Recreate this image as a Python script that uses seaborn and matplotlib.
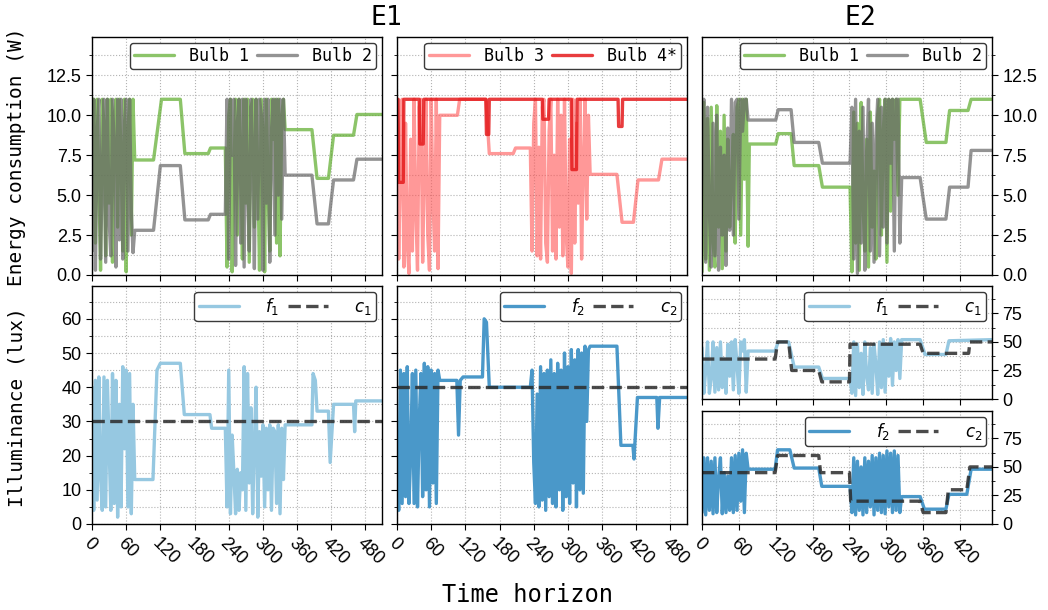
import numpy as np
import pandas as pd
import matplotlib
matplotlib.use("Agg")
import matplotlib.pyplot as plt
import seaborn as sns
from matplotlib.ticker import MultipleLocator

# ------------------------------------------------------------------ data
E1_END = 509
E2_END = 472

# sample times of the fast-switching stretches
E1_FAST_A = list(range(0, 76, 3))
E1_FAST_B = list(range(234, 340, 3))
E2_FAST_A = list(range(0, 76, 3))
E2_FAST_B = list(range(241, 326, 3))

# ---- E1, energy (W)
e1_bulb1_fast_a = [8.5, 11, 2.0, 11, 6.0, 0.3, 11, 9.5, 1.2, 11, 4.5, 11, 0.8,
                   10, 11, 3.0, 11, 7.5, 1.5, 11, 0.2, 9.0, 11, 2.5, 11, 7.2]
e1_bulb1_mid_t = [108, 122, 155, 163, 204, 208]
e1_bulb1_mid_v = [7.2, 11, 11, 7.6, 7.6, 7.95]
e1_bulb1_fast_b = [7.95, 0.5, 10, 11, 0.2, 6.0, 11, 2.5, 11, 8.0, 1.0, 11, 4.5,
                   11, 0.8, 10.5, 11, 3.0, 11, 6.5, 0.3, 11, 9.0, 0.2, 11, 5.5,
                   1.5, 11, 8.5, 11, 2.0, 11, 1.2, 10, 11, 9.1]
e1_bulb1_end_t = [386, 395, 415, 424, 459, 465, E1_END]
e1_bulb1_end_v = [9.1, 6.05, 6.05, 8.75, 8.75, 10.05, 10.05]

e1_bulb2_fast_a = [1.5, 11, 0.3, 9.0, 11, 1.0, 6.0, 11, 0.8, 11, 3.5, 1.2, 11,
                   8.0, 0.5, 11, 2.2, 11, 1.0, 9.5, 11, 1.5, 11, 4.0, 1.4, 2.8]
e1_bulb2_mid_t = [108, 120, 155, 163, 204, 208]
e1_bulb2_mid_v = [2.8, 6.85, 6.85, 3.45, 3.45, 3.8]
e1_bulb2_fast_b = [3.8, 11, 1.0, 11, 7.5, 11, 0.6, 9.5, 11, 2.0, 11, 0.5, 11,
                   6.0, 1.5, 11, 8.0, 0.4, 11, 3.5, 11, 10, 0.3, 11, 4.5, 11,
                   0.8, 9.0, 11, 2.5, 11, 5.0, 11, 3.5, 11, 6.25]
e1_bulb2_end_t = [386, 395, 415, 424, 459, 465, E1_END]
e1_bulb2_end_v = [6.25, 3.2, 3.2, 5.95, 5.95, 7.25, 7.25]

e1_bulb3_fast_a = [11, 1.0, 7.0, 11, 0.5, 9.5, 2.0, 0.1, 8.5, 1.5, 11, 4.0, 0.3,
                   10.5, 11, 0.8, 6.5, 11, 2.5, 0.3, 11, 5.0, 1.5, 11, 0.4, 10.0]
e1_bulb3_mid_t = [106, 110, 156, 162, 204, 208]
e1_bulb3_mid_v = [10.0, 11, 11, 7.6, 7.6, 7.95]
e1_bulb3_fast_b = [7.95, 1.5, 9.5, 11, 1.2, 8.0, 1.0, 10.5, 11, 2.0, 0.8, 9.0,
                   11, 1.5, 7.5, 1.0, 11, 3.0, 10, 1.2, 11, 2.5, 0.5, 8.5, 0.1,
                   11, 2.0, 9.5, 4.5, 11, 1.0, 7.0, 11, 3.5, 10, 6.3]
e1_bulb3_end_t = [386, 395, 415, 423, 459, 465, E1_END]
e1_bulb3_end_v = [6.3, 3.3, 3.3, 5.95, 5.95, 7.25, 7.25]

e1_bulb4_t = [0, 2, 3, 11, 12, 39, 40, 46, 47, 156, 157, 161, 162, 255, 256,
              266, 267, 306, 307, 315, 316, 388, 389, 395, 396, E1_END]
e1_bulb4_v = [11, 11, 5.8, 5.8, 11, 11, 8.2, 8.2, 11, 11, 8.8, 8.8, 11, 11,
              9.75, 9.75, 11, 11, 6.6, 6.6, 11, 11, 9.3, 9.3, 11, 11]

# ---- E1, illuminance (lux)
e1_f1_fast_a = [40, 4, 42, 7, 43, 14, 4, 43, 5, 42, 23, 4, 44, 6, 42, 2, 35, 5,
                46, 22, 45, 5, 44, 3, 35, 13]
e1_f1_mid_t = [107, 114, 120, 155, 162, 207, 210]
e1_f1_mid_v = [13, 45, 47, 47, 32, 32, 28]
e1_f1_fast_b = [28, 5, 45, 3, 26, 15, 3, 16, 4, 15, 10, 46, 4, 44, 12, 34, 3,
                24, 40, 2, 27, 14, 29, 5, 28, 10, 29, 4, 28, 27, 6, 29, 3, 28,
                13, 29]
e1_f1_end_t = [386, 388, 392, 395, 415, 418, 424, 459, 461, 463, E1_END]
e1_f1_end_v = [29, 44, 42, 33, 33, 18, 35, 35, 27, 36, 36]
e1_c1_t = [0, E1_END]
e1_c1_v = [30, 30]

e1_f2_fast_a = [18, 4, 45, 6, 44, 8, 46, 6, 20, 44, 6, 45, 5, 30, 44, 8, 47, 10,
                46, 5, 45, 12, 44, 6, 45, 42]
e1_f2_mid_t = [105, 108, 111, 116, 150, 153, 157, 162]
e1_f2_mid_v = [42, 26, 42, 43, 43, 60, 59, 40]
e1_f2_fast_b = [40, 45, 18, 6, 38, 5, 46, 7, 44, 4, 45, 8, 48, 6, 44, 5, 47, 10,
                45, 4, 50, 8, 46, 6, 51, 12, 48, 5, 51, 10, 50, 9, 52, 30, 51, 52]
e1_f2_end_t = [386, 393, 414, 416, 422, 456, 458, 461, E1_END]
e1_f2_end_v = [52, 23, 23, 19, 37, 37, 28, 37, 37]
e1_c2_t = [0, E1_END]
e1_c2_v = [40, 40]

# ---- E2, energy (W)
e2_bulb1_fast_a = [0.2, 10.8, 1.0, 9.8, 0.3, 10.5, 2.0, 0.5, 10.6, 3.0, 9.0, 0.4,
                   10.0, 1.5, 8.5, 3.0, 6.0, 8.8, 2.0, 10.5, 11, 2.5, 11, 6.0, 11, 1.8]
e2_bulb1_mid_t = [77, 120, 124, 145, 150, 190, 196, 240]
e2_bulb1_mid_v = [8.2, 8.2, 8.85, 8.85, 6.85, 6.85, 5.5, 5.5]
e2_bulb1_fast_b = [5.5, 0.2, 10.2, 2.0, 9.5, 0.3, 10.8, 4.5, 1.5, 8.5, 0.5, 10.2,
                   3.0, 6.5, 1.0, 10.0, 11, 2.5, 9.0, 11, 0.8, 11, 4.0, 11, 8.5,
                   11, 5.0, 11, 11]
e2_bulb1_end_t = [355, 365, 397, 403, 433, 438, E2_END]
e2_bulb1_end_v = [11, 8.3, 8.3, 10.3, 10.3, 11, 11]

e2_bulb2_fast_a = [9.0, 11, 0.8, 10.5, 4.0, 0.5, 9.5, 1.2, 10.0, 0.3, 8.0, 2.5,
                   7.5, 0.6, 9.2, 2.8, 11, 2.5, 10.8, 11, 3.5, 11, 9.0, 11, 11, 9.7]
e2_bulb2_mid_t = [120, 124, 145, 150, 190, 196, 240]
e2_bulb2_mid_v = [9.7, 10.35, 10.35, 8.3, 8.3, 7.0, 7.0]
e2_bulb2_fast_b = [7.0, 10.5, 1.0, 11, 0.1, 9.0, 2.0, 10.5, 0.3, 7.5, 11, 1.5,
                   9.5, 0.8, 8.5, 11, 1.2, 10.5, 3.0, 11, 2.0, 11, 7.0, 11, 1.5,
                   11, 11, 2.0, 6.1]
e2_bulb2_end_t = [355, 365, 397, 403, 433, 438, E2_END]
e2_bulb2_end_v = [6.1, 3.5, 3.5, 5.5, 5.5, 7.8, 7.8]

# ---- E2, illuminance (lux)
e2_f1_fast_a = [45, 5, 25, 50, 5, 18, 50, 6, 45, 8, 50, 10, 35, 5, 48, 20, 50, 8,
                52, 30, 5, 50, 42, 52, 6, 42]
e2_f1_mid_t = [119, 124, 141, 150, 190, 196, 240]
e2_f1_mid_v = [42, 50, 50, 28, 28, 18, 18]
e2_f1_fast_b = [18, 5, 50, 3, 48, 10, 40, 4, 50, 20, 8, 45, 5, 48, 30, 4, 50, 10,
                52, 6, 48, 20, 53, 12, 50, 25, 52, 18, 52]
e2_f1_end_t = [355, 363, 397, 402, E2_END]
e2_f1_end_v = [52, 39, 39, 51, 52]
e2_c1_t = [0, 119, 123, 141, 146, 190, 195, 240, 241, 355, 360, 434, 436, E2_END]
e2_c1_v = [35, 35, 50, 50, 25, 25, 15, 15, 48, 48, 40, 40, 50, 50]

e2_f2_fast_a = [10, 58, 8, 58, 12, 55, 9, 58, 10, 40, 58, 9, 45, 10, 42, 12, 58,
                10, 60, 12, 62, 20, 65, 10, 62, 48]
e2_f2_mid_t = [119, 123, 143, 150, 190, 195, 240]
e2_f2_mid_v = [48, 65, 65, 49, 49, 33, 33]
e2_f2_fast_b = [33, 10, 58, 8, 55, 12, 50, 8, 58, 10, 55, 15, 60, 8, 58, 12, 62,
                10, 60, 9, 64, 15, 62, 10, 64, 12, 60, 10, 24]
e2_f2_end_t = [355, 362, 397, 402, 431, 438, E2_END]
e2_f2_end_v = [24, 13, 13, 26, 26, 48, 48]
e2_c2_t = [0, 119, 123, 190, 193, 240, 242, 355, 360, 397, 401, 431, 436, E2_END]
e2_c2_v = [45, 45, 60, 60, 45, 45, 20, 20, 10, 10, 30, 30, 50, 50]


def series(*parts):
    t, v = [], []
    for pt, pv in parts:
        assert len(pt) == len(pv)
        t += list(pt)
        v += list(pv)
    return pd.DataFrame({"t": t, "v": v})


e1_b1 = series((E1_FAST_A, e1_bulb1_fast_a), (e1_bulb1_mid_t, e1_bulb1_mid_v),
               (E1_FAST_B, e1_bulb1_fast_b), (e1_bulb1_end_t, e1_bulb1_end_v))
e1_b2 = series((E1_FAST_A, e1_bulb2_fast_a), (e1_bulb2_mid_t, e1_bulb2_mid_v),
               (E1_FAST_B, e1_bulb2_fast_b), (e1_bulb2_end_t, e1_bulb2_end_v))
e1_b3 = series((E1_FAST_A, e1_bulb3_fast_a), (e1_bulb3_mid_t, e1_bulb3_mid_v),
               (E1_FAST_B, e1_bulb3_fast_b), (e1_bulb3_end_t, e1_bulb3_end_v))
e1_b4 = series((e1_bulb4_t, e1_bulb4_v))
e1_f1 = series((E1_FAST_A, e1_f1_fast_a), (e1_f1_mid_t, e1_f1_mid_v),
               (E1_FAST_B, e1_f1_fast_b), (e1_f1_end_t, e1_f1_end_v))
e1_f2 = series((E1_FAST_A, e1_f2_fast_a), (e1_f2_mid_t, e1_f2_mid_v),
               (E1_FAST_B, e1_f2_fast_b), (e1_f2_end_t, e1_f2_end_v))
e1_c1 = series((e1_c1_t, e1_c1_v))
e1_c2 = series((e1_c2_t, e1_c2_v))
e2_b1 = series((E2_FAST_A, e2_bulb1_fast_a), (e2_bulb1_mid_t, e2_bulb1_mid_v),
               (E2_FAST_B, e2_bulb1_fast_b), (e2_bulb1_end_t, e2_bulb1_end_v))
e2_b2 = series((E2_FAST_A, e2_bulb2_fast_a), (e2_bulb2_mid_t, e2_bulb2_mid_v),
               (E2_FAST_B, e2_bulb2_fast_b), (e2_bulb2_end_t, e2_bulb2_end_v))
e2_f1 = series((E2_FAST_A, e2_f1_fast_a), (e2_f1_mid_t, e2_f1_mid_v),
               (E2_FAST_B, e2_f1_fast_b), (e2_f1_end_t, e2_f1_end_v))
e2_f2 = series((E2_FAST_A, e2_f2_fast_a), (e2_f2_mid_t, e2_f2_mid_v),
               (E2_FAST_B, e2_f2_fast_b), (e2_f2_end_t, e2_f2_end_v))
e2_c1 = series((e2_c1_t, e2_c1_v))
e2_c2 = series((e2_c2_t, e2_c2_v))

# ------------------------------------------------------------------ style
sns.set_style("ticks")
plt.rcParams.update({
    "font.family": ["Liberation Sans", "DejaVu Sans"],
    "font.size": 12,
    "text.color": "black",
    "axes.edgecolor": "black",
    "axes.linewidth": 1.0,
    "xtick.color": "black",
    "ytick.color": "black",
    "xtick.labelcolor": "black",
    "ytick.labelcolor": "black",
    "xtick.direction": "out",
    "ytick.direction": "out",
    "xtick.major.size": 4,
    "ytick.major.size": 4,
    "ytick.minor.size": 2.5,
    "xtick.labelsize": 13,
    "ytick.labelsize": 13,
})
MONO = "DejaVu Sans Mono"

GREEN = "#5cab2a"
GREY = "#666666"
PINK = "#ff5353"
RED = "#e41a1c"
LBLUE = "#96c8e1"
BLUE = "#4a98c9"
DARK = "#2b2b2b"
LW = 2.4

W, H = 1048, 610
fig = plt.figure(figsize=(W / 100, H / 100), dpi=100)


def box(x0, y0, x1, y1):
    return [x0 / W, 1 - y1 / H, (x1 - x0) / W, (y1 - y0) / H]


ax_e1a = fig.add_axes(box(92, 37, 382, 275))
ax_e1b = fig.add_axes(box(397, 37, 687, 275))
ax_e2 = fig.add_axes(box(702, 37, 992, 275))
ax_l1 = fig.add_axes(box(92, 286, 382, 524))
ax_l2 = fig.add_axes(box(397, 286, 687, 524))
ax_m1 = fig.add_axes(box(702, 286, 992, 399))
ax_m2 = fig.add_axes(box(702, 411, 992, 524))


def draw(ax, df, color, label, alpha=1.0, ls="-"):
    sns.lineplot(data=df, x="t", y="v", ax=ax, color=color, lw=LW, alpha=alpha,
                 linestyle=ls, sort=False, estimator=None, label=label)


def style(ax, xmax, ymax, ymaj, ymin, side="left", ylabels=True, xlabels=False):
    ax.set_xlim(0, xmax)
    ax.set_ylim(0, ymax)
    ax.set_xlabel("")
    ax.set_ylabel("")
    ax.xaxis.set_major_locator(MultipleLocator(60))
    ax.yaxis.set_major_locator(MultipleLocator(ymaj))
    ax.yaxis.set_minor_locator(MultipleLocator(ymin))
    ax.grid(True, which="both", axis="both", ls=":", lw=0.8, color="#b3b3b3")
    ax.set_axisbelow(True)
    for s in ax.spines.values():
        s.set_visible(True)
        s.set_color("black")
    if side == "right":
        ax.yaxis.tick_right()
        ax.yaxis.set_label_position("right")
    ax.tick_params(axis="y", which="both", labelleft=(ylabels and side == "left"),
                   labelright=(ylabels and side == "right"))
    if xlabels:
        plt.setp(ax.get_xticklabels(), rotation=-45, ha="left", va="top",
                 rotation_mode="anchor")
    else:
        ax.tick_params(axis="x", labelbottom=False)


def legend(ax, width_pad=0.9):
    leg = ax.legend(loc="upper right", ncol=2, prop={"family": MONO, "size": 12},
                    handlelength=2.4, handletextpad=width_pad, columnspacing=0.5,
                    borderpad=0.25, borderaxespad=0.35, frameon=True,
                    fancybox=True, framealpha=1.0, edgecolor="#3a3a3a")
    leg.get_frame().set_linewidth(1.0)


# E1 energy
draw(ax_e1a, e1_b1, GREEN, "Bulb 1", alpha=0.7)
draw(ax_e1a, e1_b2, GREY, "Bulb 2", alpha=0.7)
style(ax_e1a, E1_END, 14.9, 2.5, 1.25)
legend(ax_e1a)

draw(ax_e1b, e1_b3, PINK, "Bulb 3", alpha=0.6)
draw(ax_e1b, e1_b4, RED, "Bulb 4*", alpha=0.85)
style(ax_e1b, E1_END, 14.9, 2.5, 1.25, ylabels=False)
legend(ax_e1b)

# E2 energy
draw(ax_e2, e2_b1, GREEN, "Bulb 1", alpha=0.7)
draw(ax_e2, e2_b2, GREY, "Bulb 2", alpha=0.7)
style(ax_e2, E2_END, 14.9, 2.5, 1.25, side="right")
legend(ax_e2)

# E1 illuminance
draw(ax_l1, e1_f1, LBLUE, "$f_1$")
draw(ax_l1, e1_c1, DARK, "$c_1$", alpha=0.85, ls="--")
style(ax_l1, E1_END, 69.6, 10, 5, xlabels=True)
legend(ax_l1, 1.6)

draw(ax_l2, e1_f2, BLUE, "$f_2$")
draw(ax_l2, e1_c2, DARK, "$c_2$", alpha=0.85, ls="--")
style(ax_l2, E1_END, 69.6, 10, 5, ylabels=False, xlabels=True)
legend(ax_l2, 1.6)

# E2 illuminance
draw(ax_m1, e2_f1, LBLUE, "$f_1$")
draw(ax_m1, e2_c1, DARK, "$c_1$", alpha=0.85, ls="--")
style(ax_m1, E2_END, 99, 25, 12.5, side="right")
legend(ax_m1, 1.6)

draw(ax_m2, e2_f2, BLUE, "$f_2$")
draw(ax_m2, e2_c2, DARK, "$c_2$", alpha=0.85, ls="--")
style(ax_m2, E2_END, 99, 25, 12.5, side="right", xlabels=True)
legend(ax_m2, 1.6)

# figure-level text
fig.text(386 / W, 1 - 18 / H, "E1", family=MONO, size=19, ha="center", va="center")
fig.text(860 / W, 1 - 18 / H, "E2", family=MONO, size=19, ha="center", va="center")
fig.text(17 / W, 1 - 157 / H, "Energy consumption (W)", family=MONO, size=14,
         rotation=90, ha="center", va="center")
fig.text(17 / W, 1 - 407 / H, "Illuminance (lux)", family=MONO, size=14,
         rotation=90, ha="center", va="center")
fig.text(527 / W, 1 - 595 / H, "Time horizon", family=MONO, size=17,
         ha="center", va="center")

fig.savefig("out.png", dpi=100)
